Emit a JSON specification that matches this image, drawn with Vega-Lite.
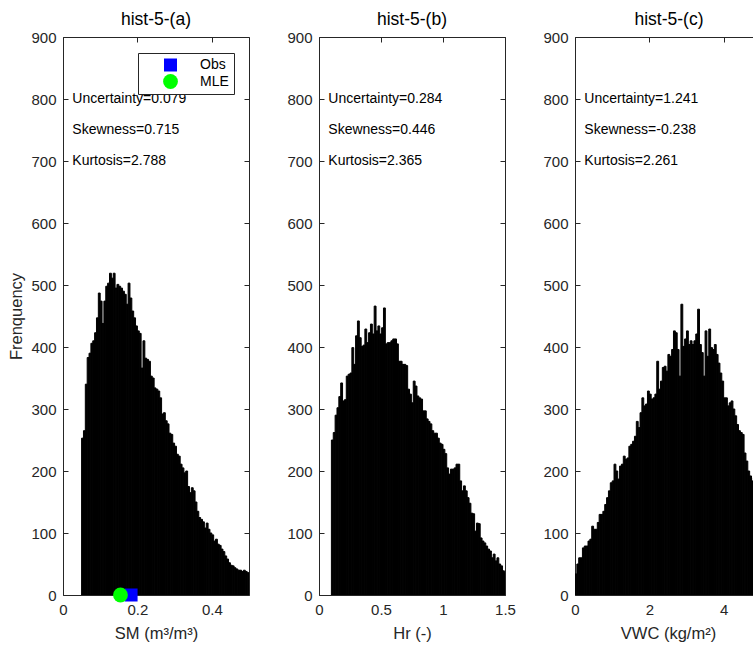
{
"$schema":"https://vega.github.io/schema/vega-lite/v6.json",
"padding":{"left":8,"top":10,"right":0,"bottom":0},
"background":"white",
"bounds":"flush",
"spacing":70,
"datasets":{
"histA":[{"a":0.05,"b":0.055,"n":253},{"a":0.055,"b":0.06,"n":265},{"a":0.06,"b":0.065,"n":340},{"a":0.065,"b":0.07,"n":383},{"a":0.07,"b":0.075,"n":390},{"a":0.075,"b":0.08,"n":406},{"a":0.08,"b":0.085,"n":410},{"a":0.085,"b":0.09,"n":423},{"a":0.09,"b":0.095,"n":447},{"a":0.095,"b":0.1,"n":487},{"a":0.1,"b":0.105,"n":474},{"a":0.105,"b":0.11,"n":438},{"a":0.11,"b":0.115,"n":474},{"a":0.115,"b":0.12,"n":498},{"a":0.12,"b":0.125,"n":503},{"a":0.125,"b":0.13,"n":519},{"a":0.13,"b":0.135,"n":511},{"a":0.135,"b":0.14,"n":519},{"a":0.14,"b":0.145,"n":495},{"a":0.145,"b":0.15,"n":501},{"a":0.15,"b":0.155,"n":498},{"a":0.155,"b":0.16,"n":495},{"a":0.16,"b":0.165,"n":490},{"a":0.165,"b":0.17,"n":485},{"a":0.17,"b":0.175,"n":469},{"a":0.175,"b":0.18,"n":503},{"a":0.18,"b":0.185,"n":479},{"a":0.185,"b":0.19,"n":458},{"a":0.19,"b":0.195,"n":447},{"a":0.195,"b":0.2,"n":434},{"a":0.2,"b":0.205,"n":426},{"a":0.205,"b":0.21,"n":422},{"a":0.21,"b":0.215,"n":366},{"a":0.215,"b":0.22,"n":410},{"a":0.22,"b":0.225,"n":382},{"a":0.225,"b":0.23,"n":380},{"a":0.23,"b":0.235,"n":377},{"a":0.235,"b":0.24,"n":353},{"a":0.24,"b":0.245,"n":350},{"a":0.245,"b":0.25,"n":334},{"a":0.25,"b":0.255,"n":332},{"a":0.255,"b":0.26,"n":329},{"a":0.26,"b":0.265,"n":318},{"a":0.265,"b":0.27,"n":292},{"a":0.27,"b":0.275,"n":294},{"a":0.275,"b":0.28,"n":281},{"a":0.28,"b":0.285,"n":276},{"a":0.285,"b":0.29,"n":261},{"a":0.29,"b":0.295,"n":259},{"a":0.295,"b":0.3,"n":245},{"a":0.3,"b":0.305,"n":240},{"a":0.305,"b":0.31,"n":227},{"a":0.31,"b":0.315,"n":224},{"a":0.315,"b":0.32,"n":211},{"a":0.32,"b":0.325,"n":205},{"a":0.325,"b":0.33,"n":197},{"a":0.33,"b":0.335,"n":200},{"a":0.335,"b":0.34,"n":175},{"a":0.34,"b":0.345,"n":165},{"a":0.345,"b":0.35,"n":173},{"a":0.35,"b":0.355,"n":168},{"a":0.355,"b":0.36,"n":150},{"a":0.36,"b":0.365,"n":135},{"a":0.365,"b":0.37,"n":125},{"a":0.37,"b":0.375,"n":122},{"a":0.375,"b":0.38,"n":118},{"a":0.38,"b":0.385,"n":108},{"a":0.385,"b":0.39,"n":116},{"a":0.39,"b":0.395,"n":106},{"a":0.395,"b":0.4,"n":100},{"a":0.4,"b":0.405,"n":97},{"a":0.405,"b":0.41,"n":87},{"a":0.41,"b":0.415,"n":90},{"a":0.415,"b":0.42,"n":82},{"a":0.42,"b":0.425,"n":80},{"a":0.425,"b":0.43,"n":74},{"a":0.43,"b":0.435,"n":70},{"a":0.435,"b":0.44,"n":63},{"a":0.44,"b":0.445,"n":58},{"a":0.445,"b":0.45,"n":52},{"a":0.45,"b":0.455,"n":48},{"a":0.455,"b":0.46,"n":47},{"a":0.46,"b":0.465,"n":44},{"a":0.465,"b":0.47,"n":42},{"a":0.47,"b":0.475,"n":40},{"a":0.475,"b":0.48,"n":40},{"a":0.48,"b":0.485,"n":38},{"a":0.485,"b":0.49,"n":40},{"a":0.49,"b":0.495,"n":38},{"a":0.495,"b":0.5,"n":36}],
"histB":[{"a":0.1,"b":0.115,"n":250},{"a":0.115,"b":0.13,"n":262},{"a":0.13,"b":0.145,"n":290},{"a":0.145,"b":0.16,"n":302},{"a":0.16,"b":0.175,"n":320},{"a":0.175,"b":0.19,"n":342},{"a":0.19,"b":0.205,"n":313},{"a":0.205,"b":0.22,"n":315},{"a":0.22,"b":0.235,"n":353},{"a":0.235,"b":0.25,"n":356},{"a":0.25,"b":0.265,"n":358},{"a":0.265,"b":0.28,"n":399},{"a":0.28,"b":0.295,"n":372},{"a":0.295,"b":0.31,"n":418},{"a":0.31,"b":0.325,"n":442},{"a":0.325,"b":0.34,"n":415},{"a":0.34,"b":0.355,"n":401},{"a":0.355,"b":0.37,"n":403},{"a":0.37,"b":0.385,"n":429},{"a":0.385,"b":0.4,"n":407},{"a":0.4,"b":0.415,"n":423},{"a":0.415,"b":0.43,"n":437},{"a":0.43,"b":0.445,"n":421},{"a":0.445,"b":0.46,"n":466},{"a":0.46,"b":0.475,"n":426},{"a":0.475,"b":0.49,"n":434},{"a":0.49,"b":0.505,"n":421},{"a":0.505,"b":0.52,"n":431},{"a":0.52,"b":0.535,"n":463},{"a":0.535,"b":0.55,"n":405},{"a":0.55,"b":0.565,"n":407},{"a":0.565,"b":0.58,"n":407},{"a":0.58,"b":0.595,"n":410},{"a":0.595,"b":0.61,"n":413},{"a":0.61,"b":0.625,"n":413},{"a":0.625,"b":0.64,"n":405},{"a":0.64,"b":0.655,"n":377},{"a":0.655,"b":0.67,"n":377},{"a":0.67,"b":0.685,"n":372},{"a":0.685,"b":0.7,"n":372},{"a":0.7,"b":0.715,"n":370},{"a":0.715,"b":0.73,"n":332},{"a":0.73,"b":0.745,"n":324},{"a":0.745,"b":0.76,"n":310},{"a":0.76,"b":0.775,"n":345},{"a":0.775,"b":0.79,"n":337},{"a":0.79,"b":0.805,"n":321},{"a":0.805,"b":0.82,"n":318},{"a":0.82,"b":0.835,"n":316},{"a":0.835,"b":0.85,"n":297},{"a":0.85,"b":0.865,"n":297},{"a":0.865,"b":0.88,"n":284},{"a":0.88,"b":0.895,"n":280},{"a":0.895,"b":0.91,"n":276},{"a":0.91,"b":0.925,"n":265},{"a":0.925,"b":0.94,"n":261},{"a":0.94,"b":0.955,"n":261},{"a":0.955,"b":0.97,"n":253},{"a":0.97,"b":0.985,"n":245},{"a":0.985,"b":1.0,"n":243},{"a":1.0,"b":1.015,"n":235},{"a":1.015,"b":1.03,"n":228},{"a":1.03,"b":1.045,"n":205},{"a":1.045,"b":1.06,"n":195},{"a":1.06,"b":1.075,"n":203},{"a":1.075,"b":1.09,"n":203},{"a":1.09,"b":1.105,"n":205},{"a":1.105,"b":1.12,"n":211},{"a":1.12,"b":1.135,"n":211},{"a":1.135,"b":1.15,"n":184},{"a":1.15,"b":1.165,"n":168},{"a":1.165,"b":1.18,"n":176},{"a":1.18,"b":1.195,"n":168},{"a":1.195,"b":1.21,"n":157},{"a":1.21,"b":1.225,"n":148},{"a":1.225,"b":1.24,"n":132},{"a":1.24,"b":1.255,"n":131},{"a":1.255,"b":1.27,"n":103},{"a":1.27,"b":1.285,"n":116},{"a":1.285,"b":1.3,"n":115},{"a":1.3,"b":1.315,"n":92},{"a":1.315,"b":1.33,"n":87},{"a":1.33,"b":1.345,"n":84},{"a":1.345,"b":1.36,"n":79},{"a":1.36,"b":1.375,"n":74},{"a":1.375,"b":1.39,"n":71},{"a":1.39,"b":1.405,"n":60},{"a":1.405,"b":1.42,"n":66},{"a":1.42,"b":1.435,"n":55},{"a":1.435,"b":1.45,"n":60},{"a":1.45,"b":1.465,"n":50},{"a":1.465,"b":1.48,"n":47},{"a":1.48,"b":1.495,"n":39},{"a":1.495,"b":1.51,"n":36}],
"histC":[{"a":0,"b":0.05,"n":34},{"a":0.05,"b":0.1,"n":50},{"a":0.1,"b":0.15,"n":60},{"a":0.15,"b":0.2,"n":60},{"a":0.2,"b":0.25,"n":76},{"a":0.25,"b":0.3,"n":79},{"a":0.3,"b":0.35,"n":79},{"a":0.35,"b":0.4,"n":87},{"a":0.4,"b":0.45,"n":90},{"a":0.45,"b":0.5,"n":111},{"a":0.5,"b":0.55,"n":106},{"a":0.55,"b":0.6,"n":106},{"a":0.6,"b":0.65,"n":117},{"a":0.65,"b":0.7,"n":130},{"a":0.7,"b":0.75,"n":130},{"a":0.75,"b":0.8,"n":135},{"a":0.8,"b":0.85,"n":146},{"a":0.85,"b":0.9,"n":157},{"a":0.9,"b":0.95,"n":168},{"a":0.95,"b":1.0,"n":181},{"a":1.0,"b":1.05,"n":184},{"a":1.05,"b":1.1,"n":211},{"a":1.1,"b":1.15,"n":200},{"a":1.15,"b":1.2,"n":187},{"a":1.2,"b":1.25,"n":208},{"a":1.25,"b":1.3,"n":211},{"a":1.3,"b":1.35,"n":224},{"a":1.35,"b":1.4,"n":219},{"a":1.4,"b":1.45,"n":221},{"a":1.45,"b":1.5,"n":240},{"a":1.5,"b":1.55,"n":243},{"a":1.55,"b":1.6,"n":248},{"a":1.6,"b":1.65,"n":256},{"a":1.65,"b":1.7,"n":280},{"a":1.7,"b":1.75,"n":270},{"a":1.75,"b":1.8,"n":294},{"a":1.8,"b":1.85,"n":318},{"a":1.85,"b":1.9,"n":305},{"a":1.9,"b":1.95,"n":308},{"a":1.95,"b":2.0,"n":329},{"a":2.0,"b":2.05,"n":324},{"a":2.05,"b":2.1,"n":316},{"a":2.1,"b":2.15,"n":318},{"a":2.15,"b":2.2,"n":324},{"a":2.2,"b":2.25,"n":377},{"a":2.25,"b":2.3,"n":332},{"a":2.3,"b":2.35,"n":345},{"a":2.35,"b":2.4,"n":367},{"a":2.4,"b":2.45,"n":369},{"a":2.45,"b":2.5,"n":361},{"a":2.5,"b":2.55,"n":388},{"a":2.55,"b":2.6,"n":385},{"a":2.6,"b":2.65,"n":396},{"a":2.65,"b":2.7,"n":426},{"a":2.7,"b":2.75,"n":423},{"a":2.75,"b":2.8,"n":396},{"a":2.8,"b":2.85,"n":353},{"a":2.85,"b":2.9,"n":469},{"a":2.9,"b":2.95,"n":401},{"a":2.95,"b":3.0,"n":413},{"a":3.0,"b":3.05,"n":426},{"a":3.05,"b":3.1,"n":404},{"a":3.1,"b":3.15,"n":410},{"a":3.15,"b":3.2,"n":404},{"a":3.2,"b":3.25,"n":410},{"a":3.25,"b":3.3,"n":421},{"a":3.3,"b":3.35,"n":461},{"a":3.35,"b":3.4,"n":404},{"a":3.4,"b":3.45,"n":391},{"a":3.45,"b":3.5,"n":353},{"a":3.5,"b":3.55,"n":426},{"a":3.55,"b":3.6,"n":385},{"a":3.6,"b":3.65,"n":429},{"a":3.65,"b":3.7,"n":399},{"a":3.7,"b":3.75,"n":396},{"a":3.75,"b":3.8,"n":404},{"a":3.8,"b":3.85,"n":388},{"a":3.85,"b":3.9,"n":374},{"a":3.9,"b":3.95,"n":358},{"a":3.95,"b":4.0,"n":345},{"a":4.0,"b":4.05,"n":318},{"a":4.05,"b":4.1,"n":318},{"a":4.1,"b":4.15,"n":305},{"a":4.15,"b":4.2,"n":310},{"a":4.2,"b":4.25,"n":313},{"a":4.25,"b":4.3,"n":300},{"a":4.3,"b":4.35,"n":289},{"a":4.35,"b":4.4,"n":275},{"a":4.4,"b":4.45,"n":265},{"a":4.45,"b":4.5,"n":262},{"a":4.5,"b":4.55,"n":259},{"a":4.55,"b":4.6,"n":229},{"a":4.6,"b":4.65,"n":216},{"a":4.65,"b":4.7,"n":200},{"a":4.7,"b":4.75,"n":192},{"a":4.75,"b":4.8,"n":184},{"a":4.8,"b":4.85,"n":189}],
"textA":[{"x":0.025,"y":800,"t":"Uncertainty=0.079"},{"x":0.025,"y":750,"t":"Skewness=0.715"},{"x":0.025,"y":700,"t":"Kurtosis=2.788"}],
"textB":[{"x":0.075,"y":800,"t":"Uncertainty=0.284"},{"x":0.075,"y":750,"t":"Skewness=0.446"},{"x":0.075,"y":700,"t":"Kurtosis=2.365"}],
"textC":[{"x":0.25,"y":800,"t":"Uncertainty=1.241"},{"x":0.25,"y":750,"t":"Skewness=-0.238"},{"x":0.25,"y":700,"t":"Kurtosis=2.261"}],
"pts":[{"x":0.183,"y":0,"k":"Obs"},{"x":0.1545,"y":0,"k":"MLE"}]
},
"hconcat":[
{"width":186,"height":558,"title":{"text":"hist-5-(a)","frame":"group"},
 "layer":[
  {"data":{"name":"histA"},"mark":{"type":"bar","color":"black","stroke":"black","strokeWidth":1,"clip":true},
   "encoding":{
    "x":{"field":"a","type":"quantitative","scale":{"domain":[0,0.5],"nice":false,"zero":false},"axis":{"orient":"bottom","values":[0,0.2,0.4],"format":"~g","title":"SM (m³/m³)"}},
    "x2":{"field":"b"},
    "y":{"field":"n","type":"quantitative","scale":{"domain":[0,900],"nice":false},"axis":{"orient":"left","values":[0,100,200,300,400,500,600,700,800,900],"format":"d","title":"Frenquency","titlePadding":6}},
    "y2":{"datum":0}}},
  {"data":{"name":"histA"},"mark":{"type":"point","opacity":0,"size":0},
   "encoding":{
    "x":{"field":"a","type":"quantitative","axis":{"orient":"top","labels":false,"title":null,"values":[0,0.2,0.4]}},
    "y":{"field":"n","type":"quantitative","axis":{"orient":"right","labels":false,"title":null,"values":[0,100,200,300,400,500,600,700,800,900]}}}},
  {"data":{"name":"textA"},"mark":{"type":"text","align":"left","baseline":"middle","fontSize":14,"font":"Liberation Sans","color":"black"},
   "encoding":{"x":{"field":"x","type":"quantitative","axis":null},"y":{"field":"y","type":"quantitative","axis":null},"text":{"field":"t"}}},
  {"data":{"name":"pts"},"mark":{"type":"point","filled":true,"opacity":1,"strokeWidth":0},
   "encoding":{"x":{"field":"x","type":"quantitative","axis":null},"y":{"field":"y","type":"quantitative","axis":null},
    "color":{"field":"k","type":"nominal","scale":{"domain":["Obs","MLE"],"range":["#0000ff","#00ff00"]},"legend":{"title":null,"orient":"none","legendX":75,"legendY":16}},
    "shape":{"field":"k","type":"nominal","scale":{"domain":["Obs","MLE"],"range":["square","circle"]},"legend":{"title":null,"orient":"none","legendX":75,"legendY":16}},
    "size":{"field":"k","type":"nominal","scale":{"domain":["Obs","MLE"],"range":[169,219]},"legend":{"title":null,"orient":"none","legendX":75,"legendY":16}}}}
 ],
 "resolve":{"axis":{"x":"independent","y":"independent"}}},
{"width":186,"height":558,"title":{"text":"hist-5-(b)","frame":"group"},
 "layer":[
  {"data":{"name":"histB"},"mark":{"type":"bar","color":"black","stroke":"black","strokeWidth":1,"clip":true},
   "encoding":{
    "x":{"field":"a","type":"quantitative","scale":{"domain":[0,1.5],"nice":false,"zero":false},"axis":{"orient":"bottom","values":[0,0.5,1,1.5],"format":"~g","title":"Hr (-)"}},
    "x2":{"field":"b"},
    "y":{"field":"n","type":"quantitative","scale":{"domain":[0,900],"nice":false},"axis":{"orient":"left","values":[0,100,200,300,400,500,600,700,800,900],"format":"d","title":null}},
    "y2":{"datum":0}}},
  {"data":{"name":"histB"},"mark":{"type":"point","opacity":0,"size":0},
   "encoding":{
    "x":{"field":"a","type":"quantitative","axis":{"orient":"top","labels":false,"title":null,"values":[0,0.5,1,1.5]}},
    "y":{"field":"n","type":"quantitative","axis":{"orient":"right","labels":false,"title":null,"values":[0,100,200,300,400,500,600,700,800,900]}}}},
  {"data":{"name":"textB"},"mark":{"type":"text","align":"left","baseline":"middle","fontSize":14,"font":"Liberation Sans","color":"black"},
   "encoding":{"x":{"field":"x","type":"quantitative","axis":null},"y":{"field":"y","type":"quantitative","axis":null},"text":{"field":"t"}}}
 ],
 "resolve":{"axis":{"x":"independent","y":"independent"}}},
{"width":178,"height":558,"title":{"text":"hist-5-(c)","frame":"group","dx":5},
 "layer":[
  {"data":{"name":"histC"},"mark":{"type":"bar","color":"black","stroke":"black","strokeWidth":1,"clip":true},
   "encoding":{
    "x":{"field":"a","type":"quantitative","scale":{"domain":[0,4.79],"nice":false,"zero":false},"axis":{"orient":"bottom","values":[0,2,4],"format":"~g","title":"VWC (kg/m²)","titleX":93}},
    "x2":{"field":"b"},
    "y":{"field":"n","type":"quantitative","scale":{"domain":[0,900],"nice":false},"axis":{"orient":"left","values":[0,100,200,300,400,500,600,700,800,900],"format":"d","title":null}},
    "y2":{"datum":0}}},
  {"data":{"name":"histC"},"mark":{"type":"point","opacity":0,"size":0},
   "encoding":{
    "x":{"field":"a","type":"quantitative","axis":{"orient":"top","labels":false,"title":null,"values":[0,2,4]}}}},
  {"data":{"name":"textC"},"mark":{"type":"text","align":"left","baseline":"middle","fontSize":14,"font":"Liberation Sans","color":"black"},
   "encoding":{"x":{"field":"x","type":"quantitative","axis":null},"y":{"field":"y","type":"quantitative","axis":null},"text":{"field":"t"}}}
 ],
 "resolve":{"axis":{"x":"independent","y":"independent"}}}
],
"resolve":{"scale":{"x":"independent","y":"independent","color":"independent","shape":"independent","size":"independent"}},
"config":{
 "view":{"stroke":null},
 "font":"Liberation Sans",
 "title":{"font":"Liberation Sans","fontSize":17.5,"fontWeight":"normal","color":"black","offset":2},
 "axis":{"grid":false,"domainColor":"#262626","tickColor":"#262626","labelColor":"#262626","titleColor":"#262626","labelFont":"Liberation Sans","labelFontSize":15,"titleFont":"Liberation Sans","titleFontSize":16.5,"titleFontWeight":"normal","tickSize":-5,"labelPadding":12,"titlePadding":8,"labelFlush":false,"labelOverlap":false,"domainWidth":1,"tickWidth":1},
 "legend":{"strokeColor":"#262626","fillColor":"white","padding":5,"symbolOffset":20,"labelOffset":22,"labelFontSize":14,"labelFont":"Liberation Sans","labelColor":"black","rowPadding":2,"symbolStrokeWidth":0}
}
}
